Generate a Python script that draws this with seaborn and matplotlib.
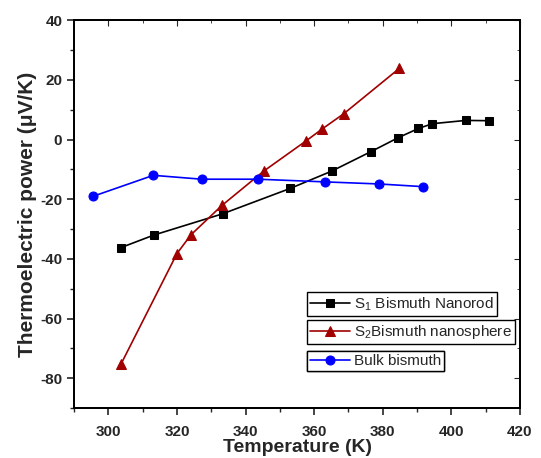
import numpy as np
import pandas as pd
import matplotlib
matplotlib.use("Agg")
import matplotlib.pyplot as plt
import seaborn as sns
from matplotlib.ticker import MultipleLocator

# data
nanorod_T = [303.7, 313.3, 333.3, 353.0, 365.1, 376.5, 384.5, 390.4, 394.5, 404.2, 411.0]
nanorod_S = [-36.2, -32.0, -24.9, -16.4, -10.6, -4.1, 0.6, 3.7, 5.3, 6.4, 6.3]

sphere_T = [303.7, 320.0, 324.1, 333.1, 345.4, 357.6, 362.3, 368.7, 384.8]
sphere_S = [-75.2, -38.2, -31.9, -22.1, -10.5, -0.5, 3.5, 8.7, 23.8]

bulk_T = [295.6, 313.1, 327.2, 343.6, 363.2, 379.0, 391.8]
bulk_S = [-19.0, -12.0, -13.3, -13.3, -14.2, -14.9, -15.8]

labels = ["S$_1$ Bismuth Nanorod", "S$_2$Bismuth nanosphere", "Bulk bismuth"]

sns.set_style("ticks")
plt.rcParams['font.family'] = ['Liberation Sans', 'DejaVu Sans']
plt.rcParams['axes.unicode_minus'] = False
plt.rcParams['mathtext.fontset'] = 'custom'
plt.rcParams['mathtext.rm'] = 'Liberation Sans'
plt.rcParams['mathtext.it'] = 'Liberation Sans:italic'

fig = plt.figure(figsize=(5.41, 4.58), dpi=100)
ax = fig.add_axes([0.137, 0.109, 0.824, 0.847])

styles = [
    (nanorod_T, nanorod_S, "black", "s", 6.0),
    (sphere_T, sphere_S, "#A00000", "^", 7.0),
    (bulk_T, bulk_S, "#0000FF", "o", 6.5),
]
for T, S, col, mk, ms in styles:
    sns.lineplot(x=T, y=S, ax=ax, color=col, marker=mk, markersize=ms,
                 markeredgecolor=col, linewidth=1.2, sort=False)

ax.set_xlim(290, 420)
ax.set_ylim(-90, 40)
ax.xaxis.set_major_locator(MultipleLocator(20))
ax.xaxis.set_minor_locator(MultipleLocator(10))
ax.yaxis.set_major_locator(MultipleLocator(20))
ax.yaxis.set_minor_locator(MultipleLocator(10))

ax.tick_params(which='major', direction='out', length=5, width=1.2, labelsize=11)
ax.tick_params(which='minor', direction='out', length=3, width=1.0)
ax.tick_params(axis='x', which='major', pad=7)
ax.tick_params(which='both', top=False, right=True)
for lab in ax.get_xticklabels() + ax.get_yticklabels():
    lab.set_fontweight('bold')

# inward ticks on right/top like the original
ax2 = ax.twinx()
ax2.set_ylim(ax.get_ylim())
ax2.yaxis.set_major_locator(MultipleLocator(20))
ax2.yaxis.set_minor_locator(MultipleLocator(10))
ax2.tick_params(which='major', direction='in', length=4, labelright=False)
ax2.tick_params(which='minor', direction='in', length=2)
ax3 = ax.twiny()
ax3.set_xlim(ax.get_xlim())
ax3.xaxis.set_major_locator(MultipleLocator(20))
ax3.xaxis.set_minor_locator(MultipleLocator(10))
ax3.tick_params(which='major', direction='in', length=4, labeltop=False)
ax3.tick_params(which='minor', direction='in', length=2)

for a in (ax, ax2, ax3):
    for sp in a.spines.values():
        sp.set_linewidth(1.2)
        sp.set_color('black')

ax.set_xlabel("Temperature (K)", fontsize=14, fontweight='bold', labelpad=0)
ax.set_ylabel("Thermoelectric power (μV/K)", fontsize=15, fontweight='bold', labelpad=2)

# three separate legend boxes
handles = ax.get_lines()[:3]
tops = [0.299, 0.227, 0.147]
for h, lab, top in zip(handles, labels, tops):
    leg = ax.legend(handles=[h], labels=[lab], loc='upper left',
                    bbox_to_anchor=(0.522, top), borderaxespad=0,
                    fancybox=False, framealpha=1, edgecolor='black',
                    fontsize=11, handlelength=2.6, handletextpad=0.3,
                    borderpad=0.2)
    leg.get_frame().set_linewidth(1.0)
    ax.add_artist(leg)

fig.savefig("out.png", dpi=100)
